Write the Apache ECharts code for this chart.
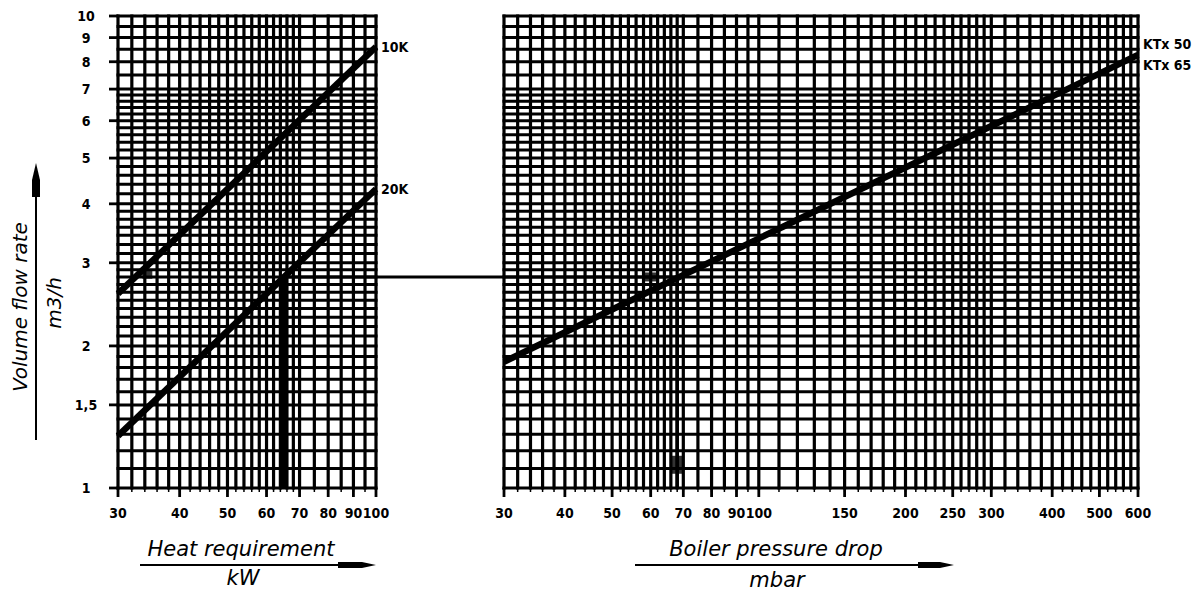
<!DOCTYPE html>
<html><head><meta charset="utf-8">
<script src="https://cdn.jsdelivr.net/npm/echarts@6/dist/echarts.min.js"></script>
<style>html,body{margin:0;padding:0;background:#fff}#c{width:1203px;height:594px}</style>
</head><body><div id="c"></div>
<script>
// ---- data ----
const heatRange = [30, 100];            // kW
const flow10K = [2.58, 8.6];            // m3/h at 30 and 100 kW
const flow20K = [1.29, 4.3];
const dropRange = [30, 600];            // mbar
const flowKTx = [1.85, 8.27];           // m3/h at 30 and 600 mbar
const exHeat = 65, exFlow = 2.8, exDrop = 68;
const markerPts = [[34.4, 2.83]];       // left panel
const markerPtsR = [[60, 2.8]];         // right panel
const markerDown = [[68, 1.12]];

const leftXTicks = [30, 40, 50, 60, 70, 80, 90, 100];
const rightXTicks = [30, 40, 50, 60, 70, 80, 90, 100, 150, 200, 250, 300, 400, 500, 600];
const yTicks = [1, 1.5, 2, 3, 4, 5, 6, 7, 8, 9, 10];
const yTickLabels = ['1', '1,5', '2', '3', '4', '5', '6', '7', '8', '9', '10'];

const leftXGrid = [30,32,34,36,38,40,42,44,46,48,50,52,54,56,58,60,62,64,66,68,70,75,80,85,90,95,100];
const rightXGrid = [30,32,34,36,38,40,42,44,46,48,50,52,54,56,58,60,62,64,66,68,70,75,80,85,90,95,100,
  110,120,130,140,150,160,170,180,190,200,210,220,230,240,250,260,270,280,290,300,
  320,340,360,380,400,420,440,460,480,500,520,540,560,580,600];
const yGrid = [1,1.1,1.2,1.3,1.4,1.5,1.6,1.7,1.8,1.9,2,2.1,2.2,2.3,2.4,2.5,2.6,2.7,2.8,2.9,3,
  3.14,3.28,3.43,3.57,3.71,3.86,4,4.2,4.4,4.6,4.8,5,5.2,5.4,5.6,5.8,6,6.2,6.4,6.6,6.8,7,
  7.5,8,8.5,9,9.5,10];

// ---- styling ----
const LBL_FONT = 'bold 14px "DejaVu Sans Condensed", "DejaVu Sans", sans-serif';
const TITLE_FONT = 'italic 21px "DejaVu Sans", sans-serif';
const yMin = 1, yMax = 10;

const chart = echarts.init(document.getElementById('c'), null, {renderer: 'svg'});

function vGridRender(lw) {
  return function (params, api) {
    const v = api.value(0);
    const p1 = api.coord([v, yMin]);
    const p2 = api.coord([v, yMax]);
    return {type: 'group', children: [
      {type: 'line', shape: {x1: p1[0], y1: p1[1] + 1.5, x2: p2[0], y2: p2[1] - 1.5}, style: {stroke: '#000', lineWidth: lw}},
      {type: 'line', shape: {x1: p1[0], y1: p1[1], x2: p1[0], y2: p1[1] + 4}, style: {stroke: '#000', lineWidth: 1.5}}
    ]};
  };
}
function hGridRender(xlo, xhi, lw) {
  return function (params, api) {
    const v = api.value(1);
    const p1 = api.coord([xlo, v]);
    const p2 = api.coord([xhi, v]);
    return {type: 'line', shape: {x1: p1[0] - 1.5, y1: p1[1], x2: p2[0] + 1.5, y2: p2[1]}, style: {stroke: '#000', lineWidth: lw}};
  };
}
function xLabelRender(ticks) {
  return function (params, api) {
    const v = api.value(0);
    const p = api.coord([v, yMin]);
    return {type: 'group', children: [
      {type: 'line', shape: {x1: p[0], y1: p[1], x2: p[0], y2: p[1] + 9}, style: {stroke: '#000', lineWidth: 2.8}},
      {type: 'text', x: p[0], y: p[1] + 25, style: {text: String(ticks[params.dataIndex]), font: LBL_FONT, fill: '#000', align: 'center', verticalAlign: 'middle'}}
    ]};
  };
}
function yLabelRender(params, api) {
  const v = api.value(1);
  const p = api.coord([heatRange[0], v]);
  return {type: 'group', children: [
    {type: 'line', shape: {x1: p[0] - 9, y1: p[1], x2: p[0], y2: p[1]}, style: {stroke: '#000', lineWidth: 2.8}},
    {type: 'text', x: p[0] - 32, y: p[1], style: {text: yTickLabels[params.dataIndex], font: LBL_FONT, fill: '#000', align: 'center', verticalAlign: 'middle'}}
  ]};
}

const axisHidden = {axisLine: {show: false}, axisTick: {show: false}, axisLabel: {show: false}, splitLine: {show: false}};
const lineBase = {type: 'line', symbol: 'none', silent: true, animation: false, z: 5};
const endLbl = (txt, extra) => Object.assign({show: true, formatter: txt, color: '#000', fontWeight: 'bold', fontSize: 14,
  fontFamily: '"DejaVu Sans Condensed", "DejaVu Sans", sans-serif', distance: 5}, extra || {});

const option = {
  backgroundColor: '#fff',
  animation: false,
  grid: [
    {left: 118, top: 16, width: 258, height: 472},
    {left: 504, top: 16, width: 634, height: 472}
  ],
  xAxis: [
    Object.assign({type: 'log', logBase: 10, min: heatRange[0], max: heatRange[1], gridIndex: 0}, axisHidden),
    Object.assign({type: 'log', logBase: 10, min: dropRange[0], max: dropRange[1], gridIndex: 1}, axisHidden)
  ],
  yAxis: [
    Object.assign({type: 'log', logBase: 10, min: yMin, max: yMax, gridIndex: 0}, axisHidden),
    Object.assign({type: 'log', logBase: 10, min: yMin, max: yMax, gridIndex: 1}, axisHidden)
  ],
  series: [
    {type: 'custom', xAxisIndex: 0, yAxisIndex: 0, silent: true, z: 1, renderItem: vGridRender(3.2), data: leftXGrid.map(v => [v, yMin])},
    {type: 'custom', xAxisIndex: 0, yAxisIndex: 0, silent: true, z: 1, renderItem: hGridRender(heatRange[0], heatRange[1], 3), data: yGrid.map(v => [heatRange[0], v])},
    {type: 'custom', xAxisIndex: 1, yAxisIndex: 1, silent: true, z: 1, renderItem: vGridRender(3.2), data: rightXGrid.map(v => [v, yMin])},
    {type: 'custom', xAxisIndex: 1, yAxisIndex: 1, silent: true, z: 1, renderItem: hGridRender(dropRange[0], dropRange[1], 3), data: yGrid.map(v => [dropRange[0], v])},
    {type: 'custom', xAxisIndex: 0, yAxisIndex: 0, silent: true, z: 2, renderItem: xLabelRender(leftXTicks), data: leftXTicks.map(v => [v, yMin])},
    {type: 'custom', xAxisIndex: 1, yAxisIndex: 1, silent: true, z: 2, renderItem: xLabelRender(rightXTicks), data: rightXTicks.map(v => [v, yMin])},
    {type: 'custom', xAxisIndex: 0, yAxisIndex: 0, silent: true, z: 2, renderItem: yLabelRender, data: yTicks.map(v => [heatRange[0], v])},

    Object.assign({}, lineBase, {name: '10K', xAxisIndex: 0, yAxisIndex: 0, lineStyle: {color: '#000', width: 6.5},
      data: [[heatRange[0], flow10K[0]], [heatRange[1], flow10K[1]]], endLabel: endLbl('10K')}),
    Object.assign({}, lineBase, {name: '20K', xAxisIndex: 0, yAxisIndex: 0, lineStyle: {color: '#000', width: 6.5},
      data: [[heatRange[0], flow20K[0]], [heatRange[1], flow20K[1]]], endLabel: endLbl('20K')}),
    Object.assign({}, lineBase, {name: 'KTx', xAxisIndex: 1, yAxisIndex: 1, lineStyle: {color: '#000', width: 6.5},
      data: [[dropRange[0], flowKTx[0]], [dropRange[1], flowKTx[1]]], endLabel: endLbl('KTx 50\nKTx 65', {lineHeight: 21})}),

    Object.assign({}, lineBase, {xAxisIndex: 0, yAxisIndex: 0, lineStyle: {color: '#000', width: 8, cap: 'butt'},
      data: [[exHeat, yMin], [exHeat, exFlow]]}),
    Object.assign({}, lineBase, {xAxisIndex: 0, yAxisIndex: 0, lineStyle: {color: '#000', width: 3},
      data: [[exHeat, exFlow], [heatRange[1], exFlow]]}),
    Object.assign({}, lineBase, {xAxisIndex: 1, yAxisIndex: 1, lineStyle: {color: '#000', width: 3},
      data: [[dropRange[0], exFlow], [exDrop, exFlow]]}),
    Object.assign({}, lineBase, {xAxisIndex: 1, yAxisIndex: 1, lineStyle: {color: '#000', width: 3.5},
      data: [[exDrop, exFlow], [exDrop, yMin]]}),

    {type: 'scatter', xAxisIndex: 0, yAxisIndex: 0, silent: true, z: 6, symbol: 'rect', symbolSize: [10, 8], itemStyle: {color: '#000'}, data: markerPts},
    {type: 'scatter', xAxisIndex: 1, yAxisIndex: 1, silent: true, z: 6, symbol: 'rect', symbolSize: [12, 9], itemStyle: {color: '#000'}, data: markerPtsR},
    {type: 'scatter', xAxisIndex: 1, yAxisIndex: 1, silent: true, z: 6, symbol: 'rect', symbolSize: [12, 18], itemStyle: {color: '#000'}, data: markerDown}
  ],
  graphic: [
    // y title
    {type: 'text', id: 'yt1', x: 20, y: 307, rotation: Math.PI / 2, style: {text: 'Volume flow rate', font: 'italic 20px "DejaVu Sans", sans-serif', fill: '#000', align: 'center', verticalAlign: 'middle'}},
    {type: 'text', id: 'yt2', x: 54, y: 303, rotation: Math.PI / 2, style: {text: 'm3/h', font: 'italic 20px "DejaVu Sans", sans-serif', fill: '#000', align: 'center', verticalAlign: 'middle'}},
    {type: 'line', id: 'yl', shape: {x1: 36, y1: 185, x2: 36, y2: 440}, style: {stroke: '#000', lineWidth: 2}},
    {type: 'polygon', id: 'ya', shape: {points: [[36, 163], [40, 180], [40, 197], [32, 197], [32, 180]]}, style: {fill: '#000'}},
    // x titles
    {type: 'text', id: 'xt1', x: 241, y: 549, style: {text: 'Heat requirement', font: TITLE_FONT, fill: '#000', align: 'center', verticalAlign: 'middle'}},
    {type: 'text', id: 'xt2', x: 243, y: 578, style: {text: 'kW', font: TITLE_FONT, fill: '#000', align: 'center', verticalAlign: 'middle'}},
    {type: 'line', id: 'xl1', shape: {x1: 140, y1: 565, x2: 345, y2: 565}, style: {stroke: '#000', lineWidth: 2}},
    {type: 'polygon', id: 'xa1', shape: {points: [[338, 562], [362, 562], [376, 565], [362, 568], [338, 568]]}, style: {fill: '#000'}},
    {type: 'text', id: 'xt3', x: 776, y: 549, style: {text: 'Boiler pressure drop', font: TITLE_FONT, fill: '#000', align: 'center', verticalAlign: 'middle'}},
    {type: 'text', id: 'xt4', x: 777, y: 580, style: {text: 'mbar', font: TITLE_FONT, fill: '#000', align: 'center', verticalAlign: 'middle'}},
    {type: 'line', id: 'xl2', shape: {x1: 635, y1: 565, x2: 925, y2: 565}, style: {stroke: '#000', lineWidth: 2}},
    {type: 'polygon', id: 'xa2', shape: {points: [[918, 562], [940, 562], [954, 565], [940, 568], [918, 568]]}, style: {fill: '#000'}}
  ]
};
chart.setOption(option);

// connector between the panels at the example flow rate
const pa = chart.convertToPixel({xAxisIndex: 0, yAxisIndex: 0}, [heatRange[1], exFlow]);
const pb = chart.convertToPixel({xAxisIndex: 1, yAxisIndex: 1}, [dropRange[0], exFlow]);
chart.setOption({graphic: [{type: 'line', id: 'conn', shape: {x1: pa[0], y1: pa[1], x2: pb[0], y2: pb[1]}, style: {stroke: '#000', lineWidth: 3}, z: 5}]});
</script></body></html>
